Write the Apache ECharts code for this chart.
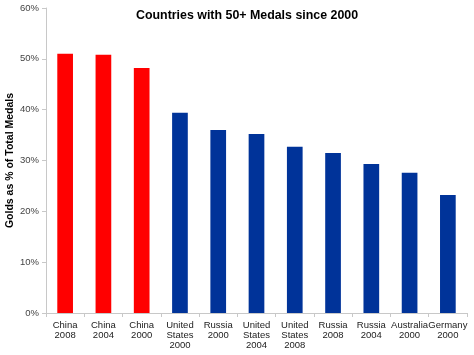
<!DOCTYPE html>
<html><head><meta charset="utf-8">
<script src="https://cdn.jsdelivr.net/npm/echarts@6/dist/echarts.min.js"></script>
<style>html,body{margin:0;padding:0;background:#fff}#c{width:474px;height:355px}</style>
</head><body><div id="c"></div>
<script>
var categories = ["China\n2008","China\n2004","China\n2000","United\nStates\n2000","Russia\n2000","United\nStates\n2004","United\nStates\n2008","Russia\n2008","Russia\n2004","Australia\n2000","Germany\n2000"];
var values = [51.0, 50.8, 48.2, 39.4, 36.0, 35.2, 32.7, 31.5, 29.3, 27.6, 23.2];
var isChina = [true, true, true, false, false, false, false, false, false, false, false];
var yTicks = [0, 10, 20, 30, 40, 50, 60];

var chart = echarts.init(document.getElementById('c'));
chart.setOption({
  animation: false,
  title: {text: 'Countries with 50+ Medals since 2000', left: 131, top: 5,
    textStyle: {fontFamily: 'Liberation Sans, Arial', fontSize: 12.4, fontWeight: 'bold', color: '#000'}},
  grid: {left: 46, right: 7, top: 8, bottom: 42, containLabel: false, outerBoundsMode: 'none'},
  xAxis: {type: 'category', data: categories,
    axisLine: {lineStyle: {color: '#c8c8c8'}},
    axisTick: {show: true, alignWithLabel: false, length: 4, lineStyle: {color: '#c8c8c8'}},
    axisLabel: {interval: 0, fontFamily: 'Liberation Sans, Arial', fontSize: 9.5, color: '#222', lineHeight: 10, margin: 7}},
  yAxis: {type: 'value', min: yTicks[0], max: yTicks[yTicks.length-1], interval: 10,
    name: 'Golds as % of Total Medals', nameLocation: 'middle', nameGap: 30, nameRotate: 90, nameMoveOverlap: false,
    nameTextStyle: {fontFamily: 'Liberation Sans, Arial', fontSize: 10.5, fontWeight: 'bold', color: '#000'},
    axisLine: {show: true, lineStyle: {color: '#c8c8c8'}},
    axisTick: {show: true, inside: false, length: 4, lineStyle: {color: '#c8c8c8'}},
    splitLine: {show: false},
    axisLabel: {formatter: '{value}%', fontFamily: 'Liberation Sans, Arial', fontSize: 9.5, color: '#444', margin: 7}},
  series: [{type: 'bar', barWidth: '41%',
    data: values.map(function(v, i){ return {value: v, itemStyle: {color: isChina[i] ? '#FF0000' : '#003399'}}; })}]
});
</script></body></html>
